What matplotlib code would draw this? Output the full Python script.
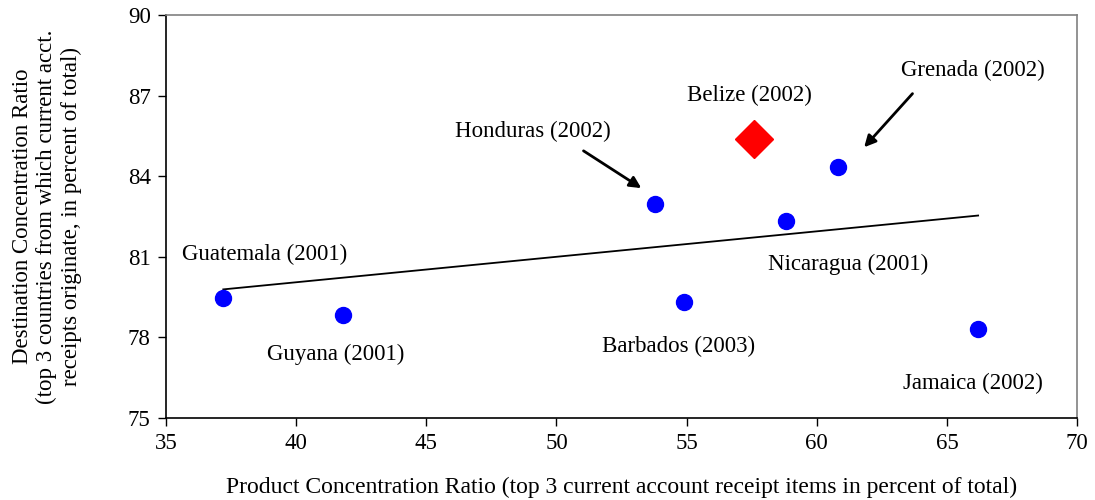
import numpy as np
import matplotlib
matplotlib.use("Agg")
import matplotlib.pyplot as plt

plt.rcParams['font.family'] = ['Liberation Serif', 'DejaVu Serif']

countries = ["Guatemala (2001)", "Guyana (2001)", "Honduras (2002)", "Barbados (2003)",
             "Nicaragua (2001)", "Grenada (2002)", "Jamaica (2002)"]
product_ratio = [37.2, 41.8, 53.8, 54.9, 58.8, 60.8, 66.2]
dest_ratio = [79.45, 78.85, 82.95, 79.3, 82.35, 84.35, 78.3]

belize_label = "Belize (2002)"
belize_x = 57.6
belize_y = 85.4

# trend line fitted over all eight countries
all_x = np.array(product_ratio + [belize_x])
all_y = np.array(dest_ratio + [belize_y])
slope, icpt = np.polyfit(all_x, all_y, 1)
line_x = np.array([min(product_ratio), max(product_ratio)])

fig = plt.figure(figsize=(10.95, 5), dpi=100)
ax = fig.add_axes([0.1516, 0.164, 0.832, 0.806])

ax.plot(line_x, slope * line_x + icpt, color='black', lw=1.3, zorder=2)
ax.plot(product_ratio, dest_ratio, 'o', color='#0000ff', markersize=11.5, zorder=3)
ax.plot([belize_x], [belize_y], 'D', color='#ff0000', markersize=19, zorder=3)

fs = 16.5
label_pos = {
    "Guatemala (2001)": (38.8, 81.07),
    "Guyana (2001)": (41.5, 77.35),
    "Honduras (2002)": (49.1, 85.65),
    "Barbados (2003)": (54.7, 77.68),
    "Nicaragua (2001)": (61.2, 80.73),
    "Grenada (2002)": (66.0, 87.92),
    "Jamaica (2002)": (66.0, 76.3),
}
for name in countries:
    x, y = label_pos[name]
    ax.text(x, y, name, ha='center', va='center', fontsize=fs)
ax.text(57.4, 86.99, belize_label, ha='center', va='center', fontsize=fs)

arrow = dict(arrowstyle='-|>', color='black', lw=2, mutation_scale=17)
ax.annotate('', xy=(53.35, 83.5), xytext=(50.95, 85.0), arrowprops=arrow)
ax.annotate('', xy=(61.75, 85.0), xytext=(63.75, 87.15), arrowprops=arrow)

ax.set_xlim(35, 70)
ax.set_ylim(75, 90)
ax.set_xticks(np.arange(35, 71, 5))
ax.set_yticks(np.arange(75, 91, 3))
ax.tick_params(direction='out', length=6, labelsize=16.5, width=1, pad=5)
ax.spines['top'].set_color('#808080')
ax.spines['right'].set_color('#808080')
for s in ax.spines.values():
    s.set_linewidth(1.2)

ax.set_xlabel("Product Concentration Ratio (top 3 current account receipt items in percent of total)",
              fontsize=17)
ax.set_ylabel("Destination Concentration Ratio\n(top 3 countries from which current acct.\n"
              "receipts originate, in percent of total)", fontsize=16.5, va='center')
ax.xaxis.set_label_coords(0.5, -0.145)
ax.yaxis.set_label_coords(-0.131, 0.5)

fig.savefig("out.png", dpi=100)
